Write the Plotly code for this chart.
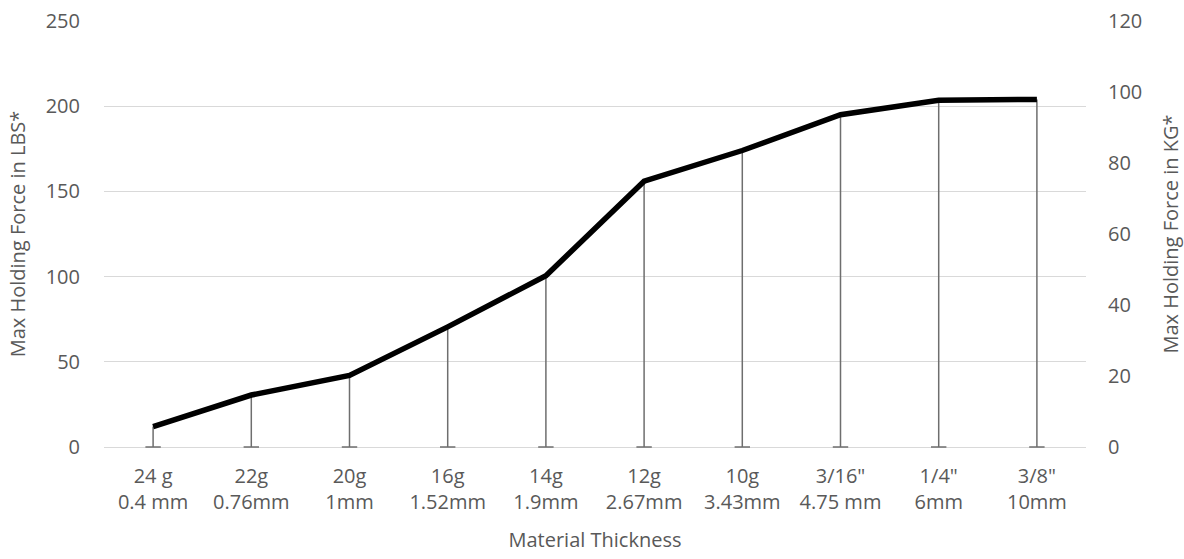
import plotly.graph_objects as go

categories = ["24 g<br>0.4 mm", "22g<br>0.76mm", "20g<br>1mm", "16g<br>1.52mm", "14g<br>1.9mm",
              "12g<br>2.67mm", "10g<br>3.43mm", "3/16\"<br>4.75 mm", "1/4\"<br>6mm", "3/8\"<br>10mm"]
force_lbs = [12, 30.5, 42, 70.5, 100.5, 156, 174, 195, 203.5, 204]
force_kg = [v * 0.4536 for v in force_lbs]

text_color = "#595959"
grid_color = "#d9d9d9"
drop_color = "#6e6e6e"
font_family = "Open Sans, Noto Sans, sans-serif"
FS = 20

W, H = 1184, 559

drop_x, drop_y = [], []
for c, v in zip(categories, force_lbs):
    drop_x += [c, c, None]
    drop_y += [v, 0, None]

fig = go.Figure()

fig.add_trace(go.Scatter(
    x=drop_x, y=drop_y, mode="lines",
    line=dict(color=drop_color, width=1.5),
    hoverinfo="skip", showlegend=False, cliponaxis=False,
))
fig.add_trace(go.Scatter(
    x=categories, y=[0] * len(categories), mode="markers",
    marker=dict(symbol="line-ew", size=11, line=dict(color=drop_color, width=1.5)),
    hoverinfo="skip", showlegend=False, cliponaxis=False,
))

fig.add_trace(go.Scatter(
    x=categories, y=force_lbs, mode="lines",
    line=dict(color="#000000", width=5.5),
    showlegend=False, cliponaxis=False,
))

fig.add_trace(go.Scatter(
    x=categories, y=force_kg, mode="lines", yaxis="y2",
    line=dict(color="rgba(0,0,0,0)", width=0),
    hoverinfo="skip", showlegend=False,
))

fig.update_layout(
    width=W, height=H,
    paper_bgcolor="white", plot_bgcolor="white",
    margin=dict(l=104, r=98, t=21, b=112, autoexpand=False),
    font=dict(family=font_family, size=FS, color=text_color),
    xaxis=dict(
        type="category", range=[-0.5, len(categories) - 0.5],
        showgrid=False, zeroline=False, showline=False,
        ticks="", tickfont=dict(size=FS, color=text_color), automargin=False,
        ticklabelstandoff=15, ticklabeloverflow="allow",
        title=dict(text="Material Thickness", font=dict(size=FS, color=text_color), standoff=18),
    ),
    yaxis=dict(
        range=[0, 250], dtick=50, showgrid=True, gridcolor=grid_color, gridwidth=1.3,
        zeroline=True, zerolinecolor=grid_color, zerolinewidth=1.3,
        showline=False, ticks="", automargin=False, ticklabelstandoff=23,
        ticklabeloverflow="allow",
        tickfont=dict(size=FS, color=text_color),
        title=dict(text="Max Holding Force in LBS*", font=dict(size=FS, color=text_color), standoff=14),
    ),
    yaxis2=dict(
        range=[0, 120], dtick=20, overlaying="y", side="right", showgrid=False,
        zeroline=False, showline=False, ticks="", automargin=False, ticklabelstandoff=21,
        ticklabeloverflow="allow",
        tickfont=dict(size=FS, color=text_color),
        title=dict(text="Max Holding Force in KG*", font=dict(size=FS, color=text_color), standoff=26),
    ),
)

fig.write_html("out.html", config={"displayModeBar": False},
               post_script="document.body.style.margin='0';")
